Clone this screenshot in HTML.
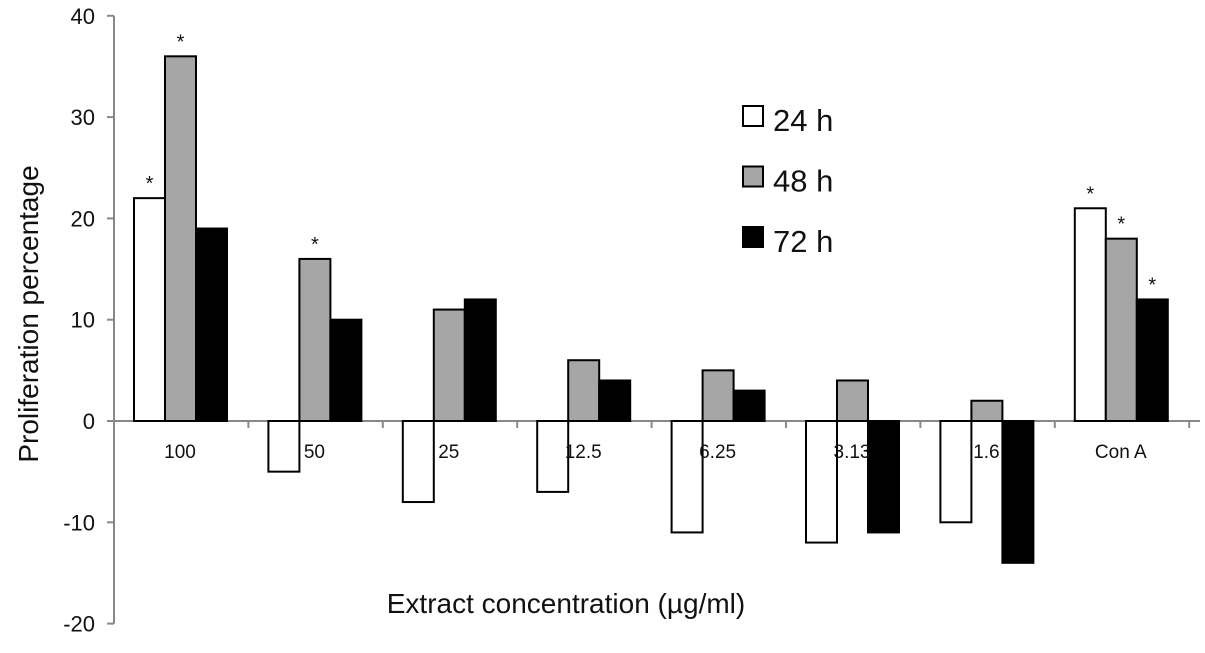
<!DOCTYPE html>
<html><head><meta charset="utf-8"><style>
body{margin:0;background:#fff}
svg text{font-family:"Liberation Sans",sans-serif;fill:#111}
</style></head><body>
<svg id="c" width="1205" height="648"></svg>
<script>
const categories=["100","50","25","12.5","6.25","3.13","1.6","Con A"];
const s24=[22,-5,-8,-7,-11,-12,-10,21];
const s48=[36,16,11,6,5,4,2,18];
const s72=[19,10,12,4,3,-11,-14,12];
const sig24=[1,0,0,0,0,0,0,1];
const sig48=[1,1,0,0,0,0,0,1];
const sig72=[0,0,0,0,0,0,0,1];
const yTicks=[40,30,20,10,0,-10,-20];
const seriesNames=["24 h","48 h","72 h"];
const fills=["#fff","#a6a6a6","#000"];
const svg=document.getElementById('c');
const NS='http://www.w3.org/2000/svg';
function y(v){return 421-v*10.13;}
function gx(i){return 134+i*134.4;}
const bw=31;
function mk(t,a,p){const e=document.createElementNS(NS,t);for(const k in a)e.setAttribute(k,a[k]);(p||svg).appendChild(e);return e;}
let e=mk('line',{x1:114,y1:y(40),x2:114,y2:y(-20),stroke:'#888','stroke-width':2});

yTicks.forEach(t=>{
 let l=mk('line',{x1:107,y1:y(t),x2:114,y2:y(t),stroke:'#888','stroke-width':2});
 
 let tx=mk('text',{x:95,y:y(t)+8,'text-anchor':'end','font-size':22});tx.textContent=t;
 
});
e=mk('line',{x1:114,y1:421,x2:1200,y2:421,stroke:'#888','stroke-width':2});

for(let i=1;i<=categories.length;i++){let l=mk('line',{x1:gx(i)-20,y1:421,x2:gx(i)-20,y2:428,stroke:'#888','stroke-width':2});
 }
const series=[s24,s48,s72],sigs=[sig24,sig48,sig72];
categories.forEach((c,i)=>{
 series.forEach((s,j)=>{
  const v=s[i],x=gx(i)+j*bw,y0=y(Math.max(v,0)),h=Math.abs(y(v)-y(0));
  let r=mk('rect',{x:x,y:y0,width:bw,height:h,fill:fills[j],stroke:'#000','stroke-width':2});
  
  if(sigs[j][i]){let a=mk('text',{x:x+bw/2,y:y(v)-8,'text-anchor':'middle','font-size':20});a.textContent='*';
   }
 });
 let t=mk('text',{x:gx(i)+46,y:458,'text-anchor':'middle','font-size':19});t.textContent=c;
 
});
seriesNames.forEach((n,j)=>{
 let r=mk('rect',{x:743,y:106+j*60.5,width:20,height:20,fill:fills[j],stroke:'#000','stroke-width':2});
 
 let t=mk('text',{x:773,y:131+j*60.5,'font-size':31});t.textContent=n;
 
});
let xt=mk('text',{x:566,y:613,'text-anchor':'middle','font-size':28});xt.textContent='Extract concentration  (\u00b5g/ml)';

let yt=mk('text',{x:0,y:0,'text-anchor':'middle','font-size':28,transform:'translate(38,314) rotate(-90)'});yt.textContent='Proliferation percentage';

</script>
</body></html>
